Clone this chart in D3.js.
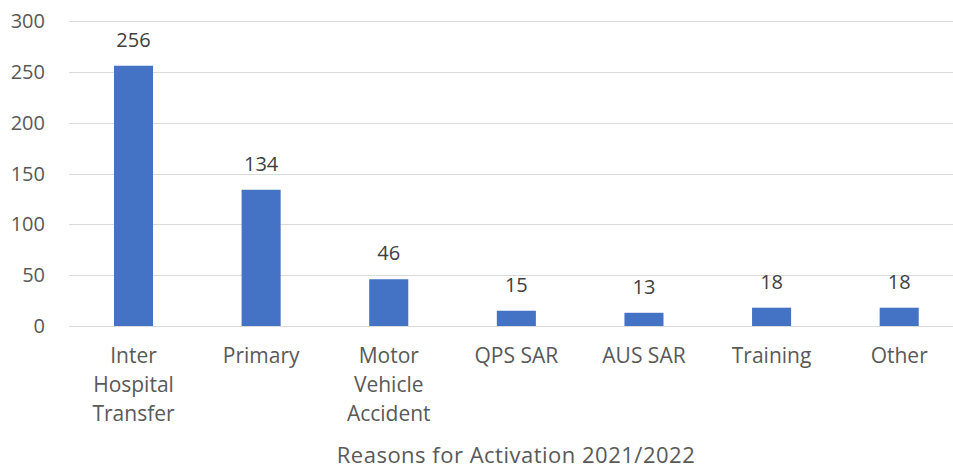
<!DOCTYPE html>
<html>
<head>
<meta charset="utf-8">
<script src="https://cdn.jsdelivr.net/npm/d3@7"></script>
<style>
  body { margin: 0; background: #fff; }
  text { font-family: "Open Sans", Lato, sans-serif; fill: #595959; }
</style>
</head>
<body>
<svg id="chart" width="953" height="468"></svg>
<script>
// Data
var categories = [
    ["Inter", "Hospital", "Transfer"],
    ["Primary"],
    ["Motor", "Vehicle", "Accident"],
    ["QPS SAR"],
    ["AUS SAR"],
    ["Training"],
    ["Other"]
];
var values = [256, 134, 46, 15, 13, 18, 18];
var yTicks = [0, 50, 100, 150, 200, 250, 300];
var axisTitle = "Reasons for Activation 2021/2022";

var svg = d3.select("#chart"),
    width = +svg.attr("width"),
    height = +svg.attr("height");

// Scales
var x = d3.scaleBand()
    .domain(d3.range(values.length))
    .range([69.7, 963])
    .padding(0);

var y = d3.scaleLinear()
    .domain([0, 300])
    .range([326, 21]);

var barW = x.bandwidth() * 0.306;

// Gridlines
svg.append("g")
    .selectAll("line")
    .data(yTicks)
    .enter()
    .append("line")
    .attr("x1", 69)
    .attr("x2", width)
    .attr("y1", function (d) { return Math.round(y(d)) + 0.5; })
    .attr("y2", function (d) { return Math.round(y(d)) + 0.5; })
    .attr("stroke", "#d9d9d9")
    .attr("stroke-width", 1);

// Y tick labels
svg.append("g")
    .selectAll("text")
    .data(yTicks)
    .enter()
    .append("text")
    .attr("x", 45)
    .attr("y", function (d) { return y(d) + 7; })
    .attr("text-anchor", "end")
    .style("font-size", "20px")
    .text(function (d) { return d; });

// Bars
svg.append("g")
    .selectAll("rect")
    .data(values)
    .enter()
    .append("rect")
    .attr("x", function (d, i) { return x(i) + x.bandwidth() / 2 - barW / 2; })
    .attr("y", function (d) { return y(d); })
    .attr("width", barW)
    .attr("height", function (d) { return y(0) - y(d); })
    .attr("fill", "#4472c4");

// Value labels
svg.append("g")
    .selectAll("text")
    .data(values)
    .enter()
    .append("text")
    .attr("x", function (d, i) { return x(i) + x.bandwidth() / 2; })
    .attr("y", function (d) { return y(d) - 19; })
    .attr("text-anchor", "middle")
    .style("font-size", "20px")
    .style("fill", "#404040")
    .text(function (d) { return d; });

// Category labels
var cat = svg.append("g")
    .selectAll("text")
    .data(categories)
    .enter()
    .append("text")
    .attr("text-anchor", "middle")
    .style("font-size", "21px")
    .attr("transform", function (d, i) {
        return "translate(" + (x(i) + x.bandwidth() / 2) + "," + (y(0) + 37) + ")";
    });

cat.selectAll("tspan")
    .data(function (d) { return d; })
    .enter()
    .append("tspan")
    .attr("x", 0)
    .attr("y", function (d, i) { return i * 29; })
    .text(function (d) { return d; });

// Axis title
svg.append("text")
    .attr("x", 516)
    .attr("y", 463)
    .attr("text-anchor", "middle")
    .style("font-size", "22px")
    .style("letter-spacing", "0.5px")
    .text(axisTitle);
</script>
</body>
</html>
